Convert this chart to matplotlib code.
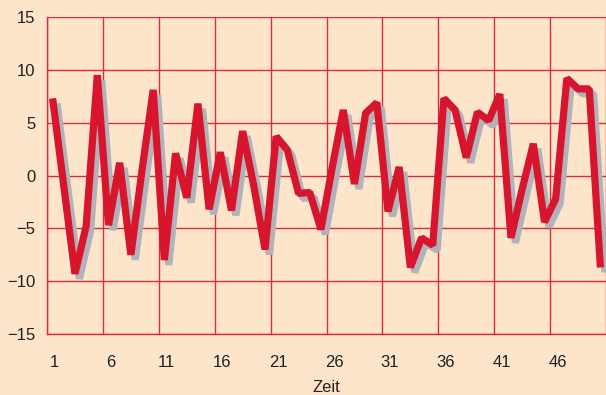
import numpy as np
import matplotlib
matplotlib.use("Agg")
import matplotlib.pyplot as plt
import matplotlib.patheffects as pe
import matplotlib.transforms as mtransforms

# Time index and series values
zeit = list(range(1, 51))
werte = [7.3, -1.0, -9.3, -4.8, 9.5, -4.7, 1.2, -7.5, 0.5, 8.1,
         -8.0, 2.1, -2.1, 6.8, -3.2, 2.2, -3.3, 4.2, -1.0, -7.0,
         3.7, 2.4, -1.7, -1.6, -5.1, 0.7, 6.2, -0.8, 5.9, 6.9,
         -3.4, 0.8, -8.7, -5.9, -6.6, 7.3, 6.2, 1.7, 6.0, 5.2,
         7.7, -5.9, -1.3, 3.0, -4.4, -2.2, 9.2, 8.2, 8.2, -8.7]

x_tick_labels = [1, 6, 11, 16, 21, 26, 31, 36, 41, 46]
y_ticks = [-15, -10, -5, 0, 5, 10, 15]

BG = "#fde5cb"
GRID = "#dc2a3c"
LINE = "#d7152d"
SHADOW = "#b2b3ba"
TEXT = "#231f20"

plt.rcParams["font.family"] = ["Liberation Sans", "DejaVu Sans"]

fig = plt.figure(figsize=(6.06, 3.95), dpi=100, facecolor=BG)
ax = fig.add_axes([47 / 606, 61 / 395, 559 / 606, 317 / 395], facecolor=BG)

ax.set_xlim(0.5, 50.15)
ax.set_ylim(-15, 15)

# grid lines sit between labelled positions on x
ax.set_xticks(np.arange(0.5, 51, 5), minor=True)
ax.set_xticks(x_tick_labels)
ax.set_xticklabels([str(v) for v in x_tick_labels])
ax.set_yticks(y_ticks)
ax.set_yticklabels([str(v).replace("-", "\u2212") for v in y_ticks])

ax.grid(which="minor", axis="x", color=GRID, lw=1.0)
ax.grid(which="major", axis="y", color=GRID, lw=1.0)
ax.tick_params(which="both", length=0)
ax.tick_params(axis="y", pad=8.5, labelsize=12, labelcolor=TEXT)
ax.tick_params(axis="x", pad=15, labelsize=12, labelcolor=TEXT)
ax.set_axisbelow(True)

shift = mtransforms.ScaledTranslation(2 / 100, 0, fig.dpi_scale_trans)
for lbl in ax.get_xticklabels():
    lbl.set_transform(lbl.get_transform() + shift)

for side in ("top", "right"):
    ax.spines[side].set_visible(False)
for side in ("left", "bottom"):
    ax.spines[side].set_color(GRID)
    ax.spines[side].set_linewidth(1.0)

ax.plot(zeit, werte, color=LINE, lw=5.2, solid_joinstyle="bevel",
        solid_capstyle="butt", zorder=3,
        path_effects=[pe.SimpleLineShadow(offset=(3.2, -3.6), shadow_color=SHADOW, alpha=1.0),
                      pe.Normal()])

ax.set_xlabel("Zeit", fontsize=12, color=TEXT, labelpad=7)

fig.savefig("out.png", dpi=100, facecolor=BG)
